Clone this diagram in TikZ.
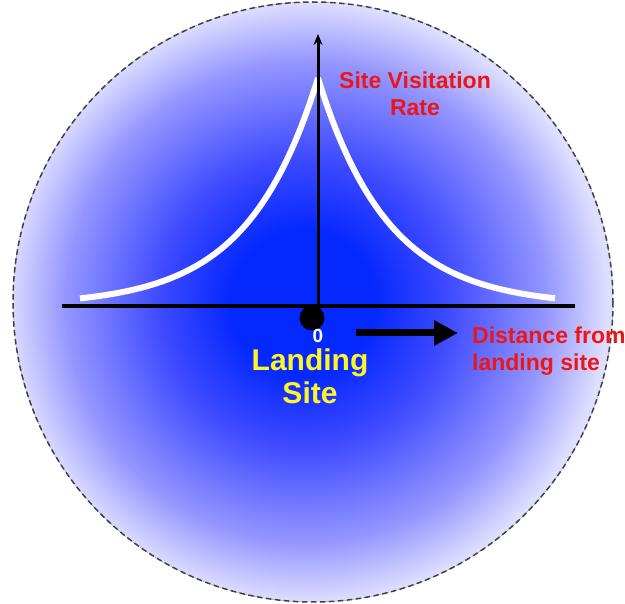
\documentclass[tikz,border=0pt]{standalone}
\usepackage{fontspec}
\setmainfont{Liberation Sans}
\usepackage{xcolor}
\usetikzlibrary{arrows.meta, positioning}
\definecolor{glowcore}{RGB}{5,40,255}
\definecolor{glowinner}{RGB}{62,74,255}
\definecolor{glowmid}{RGB}{148,150,255}
\definecolor{glowrim}{RGB}{222,222,255}
\definecolor{labelred}{RGB}{240,20,20}
\definecolor{labelyellow}{RGB}{255,245,40}
\pgfdeclareradialshading{landingglow}{\pgfpoint{-1bp}{0bp}}{%
color(0bp)=(glowcore); color(6bp)=(glowcore); color(12bp)=(glowinner); color(20bp)=(glowmid); color(25bp)=(glowrim); color(50bp)=(glowrim)}
\tikzstyle{axisline} = [line width=3.5pt, black]
\tikzstyle{redlabel} = [text=labelred, font=\bfseries\fontsize{23}{27}\selectfont, inner sep=0pt]
\tikzstyle{yellowlabel} = [text=labelyellow, font=\bfseries\fontsize{30}{35}\selectfont, inner sep=0pt, align=center]
\tikzstyle{ratecurve} = [white, line width=6pt]

\begin{document}
\begin{tikzpicture}[x=1pt, y=-1pt]
        \useasboundingbox (0,0) rectangle (625,604);

        % --- Fondo ---
        \fill[shading=landingglow] (313,302) circle (300);
        \draw[line width=1.5pt, black!75, dash pattern=on 5.5pt off 3.5pt] (313,302) circle (300);

        % --- Curva ---
        \draw[ratecurve] plot[domain=80:318, samples=80] (\x, {306-228*exp(-(318-\x)/70)});
        \draw[ratecurve] plot[domain=318:555, samples=80] (\x, {306-228*exp(-(\x-318)/70)});

        % --- Ejes ---
        \coordinate (xleft) at (62,306);
        \coordinate (xright) at (575,306);
        \coordinate (origin) at (318,306);
        \coordinate (ytop) at (318,34);
        \draw[axisline] (xleft) -- (xright);
        \draw[line width=3pt, -{Stealth[length=11pt, width=9pt]}] (origin) -- (ytop);

        % --- Nodos ---
        \node (site) [circle, fill=black, minimum size=25pt, inner sep=0pt] at (312,318) {};
        \node (zero) [text=white, font=\bfseries\fontsize{19}{20}\selectfont, inner sep=0pt] at (318,336) {0};
        \node (landing) [yellowlabel] at (310,376) {Landing\\[-2pt]Site};
        \node (rate) [redlabel, align=center] at (415,94) {Site Visitation\\Rate};
        \node (distance) [redlabel, align=left, anchor=north west] at (472,327) {Distance from\\landing site};

        % --- Flecha ---
        \coordinate (arrowstart) at (356,333);
        \draw[line width=7pt, -{Triangle[length=24pt, width=24pt]}] (arrowstart) -- ([xshift=-14pt]distance.west |- arrowstart);

    \end{tikzpicture}
\end{document}
